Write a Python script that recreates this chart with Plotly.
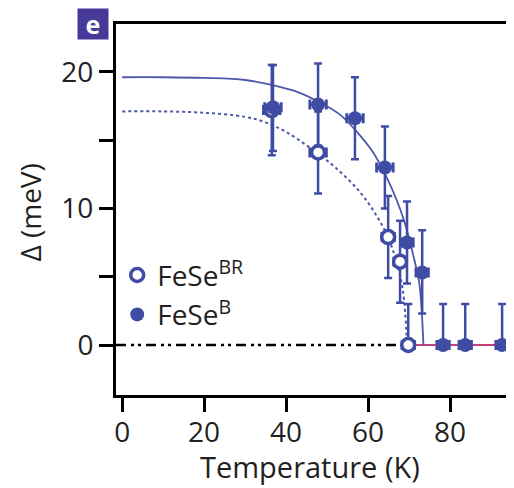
import plotly.graph_objects as go

# ---- data ----
T_B = [36.8, 47.8, 56.8, 64.1, 69.5, 73.2, 78.3, 83.7, 92.7]
D_B = [17.4, 17.6, 16.6, 13.0, 7.5, 5.3, 0.0, 0.0, 0.0]
D_B_up = [3.1, 3.0, 3.0, 3.0, 3.0, 3.1, 3.0, 3.0, 3.0]
D_B_dn = [3.2, 3.0, 3.0, 3.0, 3.0, 3.0, 0.0, 0.0, 0.0]
T_B_err = [2.0, 2.0, 2.0, 2.0, 1.5, 1.5, 1.5, 1.5, 1.5]

T_BR = [36.5, 47.8, 64.9, 67.8, 69.8]
D_BR = [17.2, 14.1, 7.9, 6.1, 0.0]
D_BR_up = [3.3, 3.0, 3.0, 3.0, 3.0]
D_BR_dn = [3.3, 3.0, 3.0, 3.0, 0.0]
T_BR_err = [2.0, 2.0, 1.5, 1.5, 1.5]

# fit curves, read as points
fitB_T = [0, 10, 20, 30, 37, 43, 48, 53, 57, 61, 64, 67, 69, 71, 72.5, 73.5]
fitB_D = [19.6, 19.6, 19.55, 19.4, 19.0, 18.5, 17.8, 16.9, 15.7, 14.2, 12.6, 10.6, 8.9, 6.6, 4.5, 0.0]
fitBR_T = [0, 10, 20, 30, 35, 40, 46, 52, 58, 62, 65, 67, 68.5, 69.5]
fitBR_D = [17.1, 17.1, 17.0, 16.7, 16.3, 15.6, 14.4, 13.0, 11.2, 9.5, 7.8, 6.0, 4.0, 0.0]

zero_black_T = [-1.5, 67.0]
zero_pink_T = [69.8, 92.7]

x_ticks = [0, 20, 40, 60, 80]
y_ticks = [0, 5, 10, 15, 20]
y_ticktext = ["0", " ", "10", " ", "20"]

BLUE = "#3f4ca3"
CURVE = "#4d58aa"
PINK = "#c8407a"
TXT = "#231f20"
FONT = "Open Sans"
FS = 28

fig = go.Figure()

fig.add_trace(go.Scatter(x=zero_black_T, y=[0, 0], mode="lines",
                         line=dict(color="black", width=2.5, dash="10px,5px,3px,4px,3px,5px"),
                         showlegend=False, hoverinfo="skip"))
fig.add_trace(go.Scatter(x=zero_pink_T, y=[0, 0], mode="lines",
                         line=dict(color=PINK, width=2), showlegend=False, hoverinfo="skip"))
fig.add_trace(go.Scatter(x=fitB_T, y=fitB_D, mode="lines", line=dict(color=CURVE, width=1.8, shape="spline"),
                         showlegend=False, hoverinfo="skip"))
fig.add_trace(go.Scatter(x=fitBR_T, y=fitBR_D, mode="lines",
                         line=dict(color=CURVE, width=2, dash="3px,3px", shape="spline"),
                         showlegend=False, hoverinfo="skip"))

fig.add_trace(go.Scatter(
    x=T_BR, y=D_BR, mode="markers", name="FeSe<sup>BR</sup>",
    marker=dict(symbol="circle", size=13, color="white", line=dict(color=BLUE, width=3.5)),
    error_y=dict(type="data", symmetric=False, array=D_BR_up, arrayminus=D_BR_dn,
                 color=BLUE, thickness=2.5, width=4),
    error_x=dict(type="data", array=T_BR_err, color=BLUE, thickness=3, width=5),
))
fig.add_trace(go.Scatter(
    x=T_B, y=D_B, mode="markers", name="FeSe<sup>B</sup>",
    marker=dict(symbol="circle", size=14, color=BLUE, line=dict(width=0)),
    error_y=dict(type="data", symmetric=False, array=D_B_up, arrayminus=D_B_dn,
                 color=BLUE, thickness=2.5, width=4),
    error_x=dict(type="data", array=T_B_err, color=BLUE, thickness=3, width=5),
))

# page body has an 8px margin, so the figure is made 8px smaller and shifted
fig.update_layout(
    width=506, height=480,
    margin=dict(l=108, r=0, t=16, b=93, autoexpand=False),
    paper_bgcolor="white", plot_bgcolor="white",
    font=dict(family=FONT, size=FS, color=TXT),
    legend=dict(x=0.003, y=0.39, xanchor="left", yanchor="top",
                bgcolor="rgba(0,0,0,0)", font=dict(size=FS, color=TXT),
                tracegroupgap=0, itemwidth=30),
    showlegend=True,
)
fig.update_xaxes(range=[-1.5, 95.6], tickvals=x_ticks, ticks="outside", ticklen=14, tickwidth=2.5,
                 tickcolor="black", showline=True, linecolor="black", linewidth=3, mirror=True,
                 showgrid=False, zeroline=False, automargin=False, ticklabelstandoff=-4,
                 tickfont=dict(size=FS, color=TXT))
fig.update_yaxes(range=[-3.66, 23.5], tickvals=y_ticks, ticktext=y_ticktext, ticks="outside",
                 ticklen=14, tickwidth=3, tickcolor="black", showline=True, linecolor="black",
                 linewidth=3, showgrid=False, zeroline=False, automargin=False,
                 tickfont=dict(size=FS, color=TXT))

# axis titles as annotations for exact placement
fig.add_annotation(xref="paper", yref="paper", x=-0.215, y=0.493, text="Δ (meV)", textangle=-90,
                   showarrow=False, font=dict(size=FS, color=TXT), xanchor="center", yanchor="middle")
fig.add_annotation(xref="paper", yref="paper", x=0.487, y=-0.193, text="Temperature (K)",
                   showarrow=False, font=dict(size=FS + 1, color=TXT), xanchor="center", yanchor="middle")

fig.add_annotation(xref="paper", yref="paper", x=-0.058, y=1.0, xanchor="center", yanchor="middle",
                   text="<b>e</b>", showarrow=False, font=dict(color="white", size=25, family=FONT),
                   bgcolor="#47399a", width=30, height=30, borderpad=0)

fig.write_html("out.html")
